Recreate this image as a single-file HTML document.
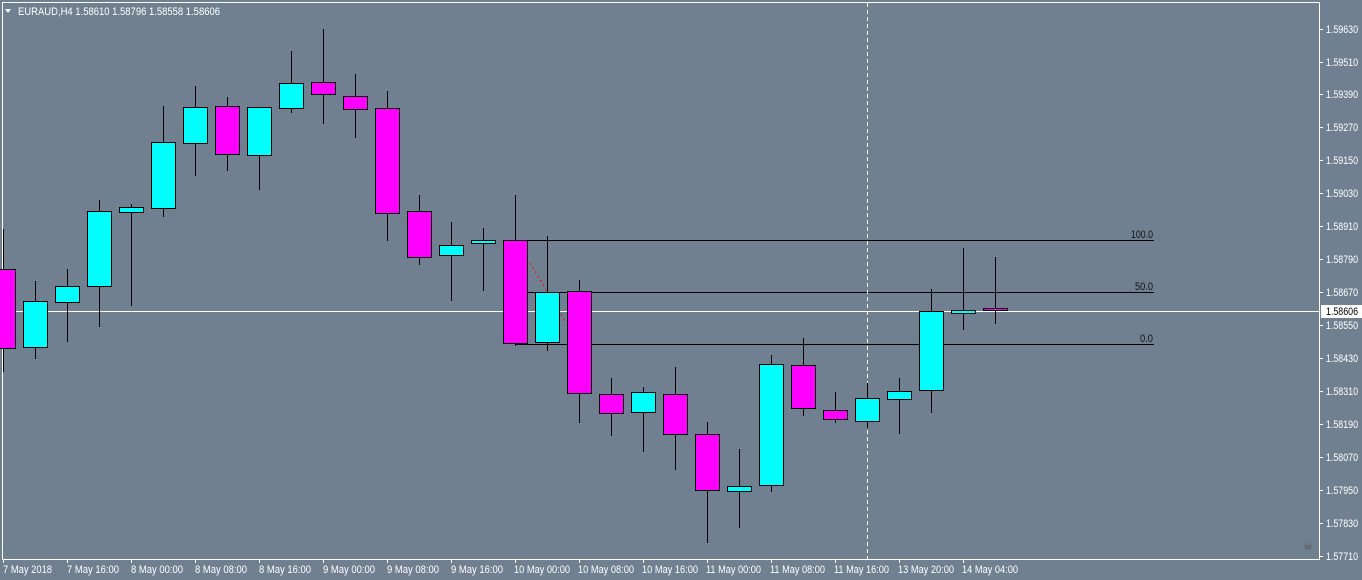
<!DOCTYPE html>
<html><head><meta charset="utf-8"><style>
html,body{margin:0;padding:0;background:#708090;}
svg{display:block;}
text{font-family:"Liberation Sans",sans-serif;font-size:11px;}
</style></head><body>
<svg width="1362" height="580" xmlns="http://www.w3.org/2000/svg" shape-rendering="crispEdges">
<rect width="1362" height="580" fill="#708090"/>
<polyline points="2.5,559.5 2.5,2.5 1319.5,2.5 1319.5,559.5 2.5,559.5" fill="none" stroke="#fff" stroke-width="1"/>
<g stroke="#000" stroke-width="1">
<line x1="515" y1="240.5" x2="1154" y2="240.5"/>
<line x1="515" y1="292.5" x2="1154" y2="292.5"/>
<line x1="515" y1="344.5" x2="1154" y2="344.5"/>
</g>
<g fill="#111">
<text x="1131" y="238" textLength="22" lengthAdjust="spacingAndGlyphs">100.0</text>
<text x="1135" y="290" textLength="18" lengthAdjust="spacingAndGlyphs">50.0</text>
<text x="1140" y="342" textLength="13" lengthAdjust="spacingAndGlyphs">0.0</text>
</g>
<line x1="3" y1="311.5" x2="1319" y2="311.5" stroke="#fff" stroke-width="1"/>
<line x1="867.5" y1="3" x2="867.5" y2="559" stroke="#fff" stroke-width="1" stroke-dasharray="4,3"/>
<line x1="530" y1="263" x2="565" y2="321" stroke="#f00" stroke-width="1" stroke-dasharray="2,3"/>
<g stroke="#000" stroke-width="1">
<line x1="3.5" y1="229" x2="3.5" y2="372"/><rect x="-8.5" y="269.5" width="24" height="79" fill="#f0f"/>
<line x1="35.5" y1="281" x2="35.5" y2="359"/><rect x="23.5" y="301.5" width="24" height="46" fill="#0ff"/>
<line x1="67.5" y1="269" x2="67.5" y2="342"/><rect x="55.5" y="286.5" width="24" height="16" fill="#0ff"/>
<line x1="99.5" y1="200" x2="99.5" y2="327"/><rect x="87.5" y="211.5" width="24" height="75" fill="#0ff"/>
<line x1="131.5" y1="204" x2="131.5" y2="306"/><rect x="119.5" y="207.5" width="24" height="5" fill="#0ff"/>
<line x1="163.5" y1="106" x2="163.5" y2="217"/><rect x="151.5" y="142.5" width="24" height="66" fill="#0ff"/>
<line x1="195.5" y1="86" x2="195.5" y2="176"/><rect x="183.5" y="107.5" width="24" height="36" fill="#0ff"/>
<line x1="227.5" y1="97" x2="227.5" y2="171"/><rect x="215.5" y="106.5" width="24" height="48" fill="#f0f"/>
<line x1="259.5" y1="107" x2="259.5" y2="190"/><rect x="247.5" y="107.5" width="24" height="48" fill="#0ff"/>
<line x1="291.5" y1="51" x2="291.5" y2="113"/><rect x="279.5" y="83.5" width="24" height="25" fill="#0ff"/>
<line x1="323.5" y1="29" x2="323.5" y2="124"/><rect x="311.5" y="82.5" width="24" height="12" fill="#f0f"/>
<line x1="355.5" y1="74" x2="355.5" y2="138"/><rect x="343.5" y="96.5" width="24" height="13" fill="#f0f"/>
<line x1="387.5" y1="91" x2="387.5" y2="241"/><rect x="375.5" y="108.5" width="24" height="105" fill="#f0f"/>
<line x1="419.5" y1="195" x2="419.5" y2="265"/><rect x="407.5" y="211.5" width="24" height="46" fill="#f0f"/>
<line x1="451.5" y1="222" x2="451.5" y2="301"/><rect x="439.5" y="245.5" width="24" height="10" fill="#0ff"/>
<line x1="483.5" y1="228" x2="483.5" y2="291"/><rect x="471.5" y="240.5" width="24" height="3" fill="#0ff"/>
<line x1="515.5" y1="195" x2="515.5" y2="346"/><rect x="503.5" y="240.5" width="24" height="103" fill="#f0f"/>
<line x1="547.5" y1="236" x2="547.5" y2="351"/><rect x="535.5" y="292.5" width="24" height="50" fill="#0ff"/>
<line x1="579.5" y1="280" x2="579.5" y2="423"/><rect x="567.5" y="291.5" width="24" height="102" fill="#f0f"/>
<line x1="611.5" y1="378" x2="611.5" y2="436"/><rect x="599.5" y="394.5" width="24" height="19" fill="#f0f"/>
<line x1="643.5" y1="387" x2="643.5" y2="452"/><rect x="631.5" y="392.5" width="24" height="20" fill="#0ff"/>
<line x1="675.5" y1="367" x2="675.5" y2="470"/><rect x="663.5" y="394.5" width="24" height="40" fill="#f0f"/>
<line x1="707.5" y1="422" x2="707.5" y2="543"/><rect x="695.5" y="434.5" width="24" height="56" fill="#f0f"/>
<line x1="739.5" y1="449" x2="739.5" y2="528"/><rect x="727.5" y="486.5" width="24" height="5" fill="#0ff"/>
<line x1="771.5" y1="355" x2="771.5" y2="492"/><rect x="759.5" y="364.5" width="24" height="121" fill="#0ff"/>
<line x1="803.5" y1="338" x2="803.5" y2="416"/><rect x="791.5" y="365.5" width="24" height="43" fill="#f0f"/>
<line x1="835.5" y1="392" x2="835.5" y2="423"/><rect x="823.5" y="410.5" width="24" height="9" fill="#f0f"/>
<line x1="867.5" y1="383" x2="867.5" y2="428"/><rect x="855.5" y="398.5" width="24" height="23" fill="#0ff"/>
<line x1="899.5" y1="378" x2="899.5" y2="434"/><rect x="887.5" y="391.5" width="24" height="8" fill="#0ff"/>
<line x1="931.5" y1="289" x2="931.5" y2="413"/><rect x="919.5" y="311.5" width="24" height="79" fill="#0ff"/>
<line x1="963.5" y1="248" x2="963.5" y2="330"/><rect x="951.5" y="310.5" width="24" height="3" fill="#0ff"/>
<line x1="995.5" y1="257" x2="995.5" y2="324"/><rect x="983.5" y="308.5" width="24" height="2" fill="#f0f"/>
</g>
<polygon points="5,9 11,9 8,13" fill="#fff"/>
<text x="18" y="15" fill="#fff" textLength="202" lengthAdjust="spacingAndGlyphs">EURAUD,H4  1.58610 1.58796 1.58558 1.58606</text>
<g stroke="#fff"><line x1="1320" y1="29.5" x2="1323" y2="29.5"/><line x1="1320" y1="62.5" x2="1323" y2="62.5"/><line x1="1320" y1="94.5" x2="1323" y2="94.5"/><line x1="1320" y1="127.5" x2="1323" y2="127.5"/><line x1="1320" y1="160.5" x2="1323" y2="160.5"/><line x1="1320" y1="193.5" x2="1323" y2="193.5"/><line x1="1320" y1="226.5" x2="1323" y2="226.5"/><line x1="1320" y1="259.5" x2="1323" y2="259.5"/><line x1="1320" y1="292.5" x2="1323" y2="292.5"/><line x1="1320" y1="325.5" x2="1323" y2="325.5"/><line x1="1320" y1="358.5" x2="1323" y2="358.5"/><line x1="1320" y1="391.5" x2="1323" y2="391.5"/><line x1="1320" y1="424.5" x2="1323" y2="424.5"/><line x1="1320" y1="457.5" x2="1323" y2="457.5"/><line x1="1320" y1="490.5" x2="1323" y2="490.5"/><line x1="1320" y1="523.5" x2="1323" y2="523.5"/><line x1="1320" y1="556.5" x2="1323" y2="556.5"/></g>
<g fill="#fff" textLength="32" lengthAdjust="spacingAndGlyphs">
<text x="1326" y="33" textLength="32" lengthAdjust="spacingAndGlyphs">1.59630</text><text x="1326" y="66" textLength="32" lengthAdjust="spacingAndGlyphs">1.59510</text><text x="1326" y="98" textLength="32" lengthAdjust="spacingAndGlyphs">1.59390</text><text x="1326" y="131" textLength="32" lengthAdjust="spacingAndGlyphs">1.59270</text><text x="1326" y="164" textLength="32" lengthAdjust="spacingAndGlyphs">1.59150</text><text x="1326" y="197" textLength="32" lengthAdjust="spacingAndGlyphs">1.59030</text><text x="1326" y="230" textLength="32" lengthAdjust="spacingAndGlyphs">1.58910</text><text x="1326" y="263" textLength="32" lengthAdjust="spacingAndGlyphs">1.58790</text><text x="1326" y="296" textLength="32" lengthAdjust="spacingAndGlyphs">1.58670</text><text x="1326" y="329" textLength="32" lengthAdjust="spacingAndGlyphs">1.58550</text><text x="1326" y="362" textLength="32" lengthAdjust="spacingAndGlyphs">1.58430</text><text x="1326" y="395" textLength="32" lengthAdjust="spacingAndGlyphs">1.58310</text><text x="1326" y="428" textLength="32" lengthAdjust="spacingAndGlyphs">1.58190</text><text x="1326" y="461" textLength="32" lengthAdjust="spacingAndGlyphs">1.58070</text><text x="1326" y="494" textLength="32" lengthAdjust="spacingAndGlyphs">1.57950</text><text x="1326" y="527" textLength="32" lengthAdjust="spacingAndGlyphs">1.57830</text><text x="1326" y="560" textLength="32" lengthAdjust="spacingAndGlyphs">1.57710</text>
</g>
<rect x="1321" y="305" width="41" height="13" fill="#fff"/>
<text x="1326" y="315" fill="#000" textLength="32" lengthAdjust="spacingAndGlyphs">1.58606</text>
<g stroke="#fff"><line x1="3.5" y1="560" x2="3.5" y2="563"/><line x1="67.5" y1="560" x2="67.5" y2="563"/><line x1="131.5" y1="560" x2="131.5" y2="563"/><line x1="195.5" y1="560" x2="195.5" y2="563"/><line x1="259.5" y1="560" x2="259.5" y2="563"/><line x1="323.5" y1="560" x2="323.5" y2="563"/><line x1="387.5" y1="560" x2="387.5" y2="563"/><line x1="451.5" y1="560" x2="451.5" y2="563"/><line x1="515.5" y1="560" x2="515.5" y2="563"/><line x1="579.5" y1="560" x2="579.5" y2="563"/><line x1="643.5" y1="560" x2="643.5" y2="563"/><line x1="707.5" y1="560" x2="707.5" y2="563"/><line x1="771.5" y1="560" x2="771.5" y2="563"/><line x1="835.5" y1="560" x2="835.5" y2="563"/><line x1="899.5" y1="560" x2="899.5" y2="563"/><line x1="963.5" y1="560" x2="963.5" y2="563"/></g>
<g fill="#fff">
<text x="3" y="573" textLength="49" lengthAdjust="spacingAndGlyphs">7 May 2018</text>
<text x="67" y="573" textLength="52" lengthAdjust="spacingAndGlyphs">7 May 16:00</text>
<text x="131" y="573" textLength="52" lengthAdjust="spacingAndGlyphs">8 May 00:00</text>
<text x="195" y="573" textLength="52" lengthAdjust="spacingAndGlyphs">8 May 08:00</text>
<text x="259" y="573" textLength="52" lengthAdjust="spacingAndGlyphs">8 May 16:00</text>
<text x="323" y="573" textLength="52" lengthAdjust="spacingAndGlyphs">9 May 00:00</text>
<text x="387" y="573" textLength="52" lengthAdjust="spacingAndGlyphs">9 May 08:00</text>
<text x="451" y="573" textLength="52" lengthAdjust="spacingAndGlyphs">9 May 16:00</text>
<text x="514" y="573" textLength="56" lengthAdjust="spacingAndGlyphs">10 May 00:00</text>
<text x="578" y="573" textLength="56" lengthAdjust="spacingAndGlyphs">10 May 08:00</text>
<text x="642" y="573" textLength="56" lengthAdjust="spacingAndGlyphs">10 May 16:00</text>
<text x="706" y="573" textLength="55" lengthAdjust="spacingAndGlyphs">11 May 00:00</text>
<text x="770" y="573" textLength="55" lengthAdjust="spacingAndGlyphs">11 May 08:00</text>
<text x="834" y="573" textLength="55" lengthAdjust="spacingAndGlyphs">11 May 16:00</text>
<text x="898" y="573" textLength="56" lengthAdjust="spacingAndGlyphs">13 May 20:00</text>
<text x="962" y="573" textLength="56" lengthAdjust="spacingAndGlyphs">14 May 04:00</text>
</g>
<text x="1303" y="550" fill="#555" font-size="10">☠</text>
</svg>
</body></html>
